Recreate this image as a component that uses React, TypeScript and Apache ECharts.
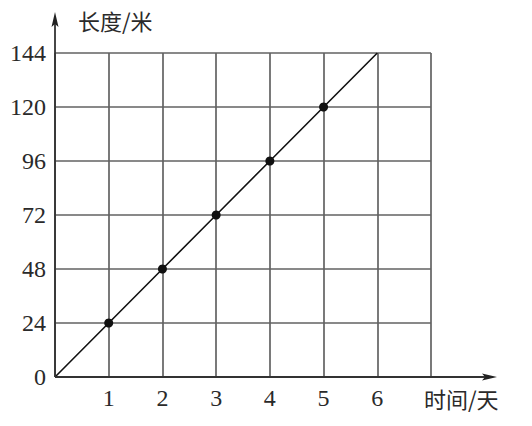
import React, { useEffect, useRef } from "react";
import * as echarts from "echarts";

// Data
const days = [0, 1, 2, 3, 4, 5, 6];
const lengths = [0, 24, 48, 72, 96, 120, 144];
const markedDays = [1, 2, 3, 4, 5];
const xTickLabels = ["1", "2", "3", "4", "5", "6"];
const yTickLabels = ["0", "24", "48", "72", "96", "120", "144"];
const xTitle = "时间/天";
const yTitle = "长度/米";

const SERIF = '"Liberation Serif", "Times New Roman", "DejaVu Serif", serif';
const CJK = '"Noto Sans CJK SC", "Noto Sans", sans-serif';

export default function App() {
  const ref = useRef<HTMLDivElement>(null);

  useEffect(() => {
    if (!ref.current) return;
    const chart = echarts.init(ref.current, undefined, { renderer: "svg" });

    const gridLeft = 55;
    const gridTop = 53;
    const gridWidth = 376;
    const gridHeight = 324;

    const seriesData = days.map((d, i) => ({
      value: [d, lengths[i]],
      symbolSize: markedDays.includes(d) ? 9 : 0,
    }));

    chart.setOption({
      animation: false,
      backgroundColor: "#ffffff",
      grid: {
        left: gridLeft,
        top: gridTop,
        width: gridWidth,
        height: gridHeight,
        outerBoundsMode: "none",
      },
      xAxis: {
        type: "value",
        min: 0,
        max: 7,
        interval: 1,
        name: xTitle,
        nameLocation: "end",
        nameGap: -7,
        nameTextStyle: {
          fontFamily: CJK,
          fontSize: 22,
          color: "#2a2a2a",
          align: "left",
          verticalAlign: "top",
          padding: [10, 0, 0, 0],
        },
        axisLine: { show: false },
        axisTick: { show: false },
        axisLabel: {
          fontFamily: SERIF,
          fontSize: 24,
          color: "#2a2a2a",
          margin: 9,
          formatter: (v: number) => (xTickLabels.includes(String(v)) ? String(v) : ""),
        },
        splitLine: { show: true, lineStyle: { color: "#626262", width: 1.7 } },
      },
      yAxis: {
        type: "value",
        min: 0,
        max: 144,
        interval: 24,
        name: yTitle,
        nameLocation: "end",
        nameGap: 33,
        nameTextStyle: {
          fontFamily: CJK,
          fontSize: 22,
          color: "#2a2a2a",
          align: "left",
          verticalAlign: "middle",
          padding: [0, 0, 0, 23],
        },
        axisLine: { show: false },
        axisTick: { show: false },
        axisLabel: {
          fontFamily: SERIF,
          fontSize: 24,
          color: "#2a2a2a",
          margin: 9,
          formatter: (v: number) => (yTickLabels.includes(String(v)) ? String(v) : ""),
        },
        splitLine: { show: true, lineStyle: { color: "#626262", width: 1.7 } },
      },
      series: [
        {
          type: "line",
          data: seriesData,
          symbol: "circle",
          showSymbol: true,
          lineStyle: { color: "#111", width: 1.6 },
          itemStyle: { color: "#111" },
          z: 5,
        },
      ],
    });

    // Axis lines with arrows, anchored on the library's origin pixel
    const o = chart.convertToPixel({ gridIndex: 0 }, [0, 0]) as number[];
    const ox = o[0];
    const oy = o[1];
    const xEnd = ox + 442;
    const yEnd = oy - 365;
    chart.setOption({
      graphic: [
        {
          type: "line",
          shape: { x1: ox, y1: oy, x2: xEnd - 6, y2: oy },
          style: { stroke: "#333", lineWidth: 1.8 },
          z: 10,
        },
        {
          type: "polygon",
          shape: { points: [[xEnd, oy], [xEnd - 15, oy - 3.5], [xEnd - 12, oy], [xEnd - 15, oy + 3.5]] },
          style: { fill: "#222" },
          z: 10,
        },
        {
          type: "line",
          shape: { x1: ox, y1: oy, x2: ox, y2: yEnd + 6 },
          style: { stroke: "#333", lineWidth: 1.8 },
          z: 10,
        },
        {
          type: "polygon",
          shape: { points: [[ox, yEnd], [ox - 3.5, yEnd + 15], [ox, yEnd + 12], [ox + 3.5, yEnd + 15]] },
          style: { fill: "#222" },
          z: 10,
        },
      ],
    });

    return () => chart.dispose();
  }, []);

  return (
    <div
      ref={ref}
      style={{ position: "fixed", left: 0, top: 0, width: 532, height: 426 }}
    />
  );
}
